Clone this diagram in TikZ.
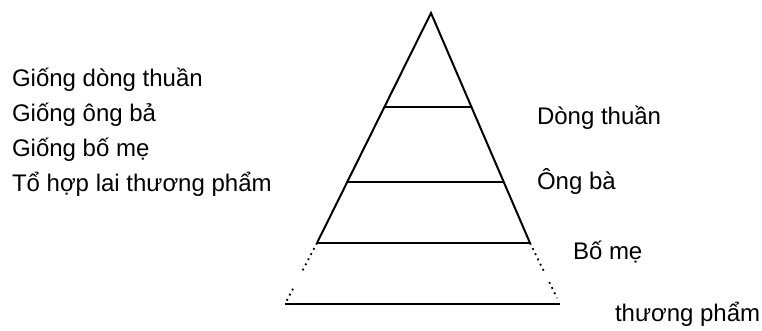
\documentclass[tikz,border=0pt]{standalone}
\usepackage{fontspec}
\setmainfont{Liberation Sans}
\usetikzlibrary{calc}

\begin{document}
\begin{tikzpicture}[x=0.5pt, y=-0.5pt, line width=1pt, level/.style={inner sep=0pt, anchor=base west, font=\fontsize{12}{14}\selectfont}, faded/.style={dotted, line width=0.9pt}]
  \useasboundingbox (0,0) rectangle (762,331);

  \coordinate (top) at (431,13);
  \coordinate (bl)  at (317,243);
  \coordinate (br)  at (530,243);
  \coordinate (fl)  at (285,304);
  \coordinate (fr)  at (560,304);

  \draw (bl) -- (top) -- (br);
  \draw ($(top)!0.41!(bl)$) -- ($(top)!0.41!(br)$);
  \draw ($(top)!0.735!(bl)$) -- ($(top)!0.735!(br)$);
  \draw (bl) -- (br);
  \draw (fl) -- (fr);
  \draw[faded] (bl) -- ($(bl)!0.5!(fl)$) ($(bl)!0.75!(fl)$) -- (fl);
  \draw[faded] (br) -- ($(br)!0.5!(fr)$) ($(br)!0.64!(fr)$) -- ($(br)!0.9!(fr)$);

  \node[level] (giong1) at (11,87)  {Giống dòng thuần};
  \node[level] (giong2) at (11,122) {Giống ông bả};
  \node[level] (giong3) at (11,157) {Giống bố mẹ};
  \node[level] (tohop)  at (11,192) {Tổ hợp lai thương phẩm};

  \node[level] (dong)   at (536,125) {Dòng thuần};
  \node[level] (ongba)  at (536,190) {Ông bà};
  \node[level] (bome)   at (572,260) {Bố mẹ};
  \node[level] (tpham)  at (614,322) {thương phẩm};
\end{tikzpicture}
\end{document}
